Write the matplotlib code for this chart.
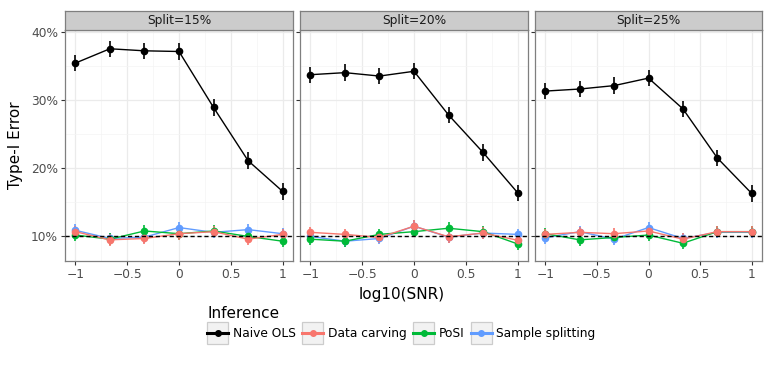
import matplotlib
matplotlib.use("Agg")
import matplotlib.pyplot as plt
import numpy as np
from matplotlib.patches import Rectangle
from matplotlib.lines import Line2D
from matplotlib.legend_handler import HandlerLine2D

plt.rcParams['font.family'] = ['DejaVu Sans']

log_snr = [-1, -2/3, -1/3, 0, 1/3, 2/3, 1]
splits = ["Split=15%", "Split=20%", "Split=25%"]
methods = ["Naive OLS", "Data carving", "PoSI", "Sample splitting"]
colors = {"Naive OLS": "#000000", "Data carving": "#F8766D", "PoSI": "#00BA38", "Sample splitting": "#619CFF"}

naive = [
    [35.4, 37.5, 37.2, 37.1, 28.9, 21.1, 16.6],
    [33.7, 34.0, 33.5, 34.2, 27.8, 22.3, 16.4],
    [31.3, 31.6, 32.1, 33.2, 28.7, 21.5, 16.3],
]
carving = [
    [10.7, 9.5, 9.7, 10.4, 10.7, 9.6, 10.3],
    [10.6, 10.3, 9.85, 11.5, 9.95, 10.5, 9.45],
    [10.3, 10.6, 10.4, 10.8, 9.6, 10.7, 10.7],
]
posi = [
    [10.2, 9.6, 10.8, 10.4, 10.8, 10.0, 9.3],
    [9.6, 9.3, 10.3, 10.7, 11.2, 10.7, 8.9],
    [10.4, 9.5, 9.85, 10.2, 9.0, 10.7, 10.7],
]
splitting = [
    [10.9, 9.7, 9.9, 11.3, 10.6, 11.0, 10.4],
    [10.0, 9.3, 9.7, 11.5, 9.9, 10.5, 10.3],
    [9.8, 10.7, 9.6, 11.3, 9.7, 10.6, 10.6],
]
naive_err = 1.2
other_err = 0.85

series = {"Naive OLS": naive, "Data carving": carving, "PoSI": posi, "Sample splitting": splitting}

W, H = 772, 372
fig = plt.figure(figsize=(W/100, H/100), dpi=100)

panel_x = [(65, 293), (300, 528), (535, 762)]
top, bottom = 30, 261
strip_top = 11

axes = []
for i, (x0, x1) in enumerate(panel_x):
    ax = fig.add_axes([x0/W, 1 - bottom/H, (x1-x0)/W, (bottom-top)/H])
    axes.append(ax)
    ax.set_facecolor("white")
    for m in ["Sample splitting", "PoSI", "Data carving", "Naive OLS"]:
        ys = series[m][i]
        err = naive_err if m == "Naive OLS" else other_err
        ax.errorbar(log_snr, ys, yerr=err, color=colors[m], lw=1.0, marker='o', ms=4.5,
                    elinewidth=1.2, capsize=0, zorder=3 if m == "Naive OLS" else 2)
    ax.axhline(10, color="black", ls=(0, (3, 2)), lw=1.0, zorder=4)
    ax.set_xlim(-1.1, 1.1)
    ax.set_ylim(6.4, 40.25)
    ax.set_xticks([-1, -0.5, 0, 0.5, 1])
    ax.set_xticklabels(["\u22121", "\u22120.5", "0", "0.5", "1"])
    ax.set_xticks([-0.75, -0.25, 0.25, 0.75], minor=True)
    ax.set_yticks([10, 20, 30, 40])
    ax.set_yticks([15, 25, 35], minor=True)
    if i == 0:
        ax.set_yticklabels(["10%", "20%", "30%", "40%"])
    else:
        ax.set_yticklabels([])
    ax.grid(which="major", color="#EBEBEB", lw=0.9, zorder=0)
    ax.grid(which="minor", color="#F4F4F4", lw=0.5, zorder=0)
    ax.set_axisbelow(True)
    for s in ax.spines.values():
        s.set_color("#7F7F7F")
        s.set_linewidth(0.9)
    ax.tick_params(which="major", length=3, color="#333333", labelsize=8.8, labelcolor="#4D4D4D", pad=2)
    ax.tick_params(which="minor", length=0)
    # strip
    sax = fig.add_axes([x0/W, 1 - top/H, (x1-x0)/W, (top-strip_top)/H])
    sax.set_facecolor("#CCCCCC")
    sax.set_xticks([]); sax.set_yticks([])
    for s in sax.spines.values():
        s.set_color("#7F7F7F")
        s.set_linewidth(0.9)
    sax.text(0.5, 0.5, splits[i], ha="center", va="center", fontsize=8.8, color="#1A1A1A",
             transform=sax.transAxes)

fig.text(16/W, 1 - 145/H, "Type-I Error", rotation=90, ha="center", va="center", fontsize=11)
fig.text(402/W, 1 - 294/H, "log10(SNR)", ha="center", va="center", fontsize=11)


class BoxHandler(HandlerLine2D):
    def create_artists(self, legend, orig_handle, xdescent, ydescent, width, height, fontsize, trans):
        pad = 4.8
        rect = Rectangle((-xdescent, -ydescent - pad), width, height + 2 * pad, facecolor="#F2F2F2",
                         edgecolor="#CCCCCC", lw=0.9, transform=trans)
        arts = super().create_artists(legend, orig_handle, xdescent, ydescent, width, height, fontsize, trans)
        return [rect] + list(arts)


handles = [Line2D([], [], color=colors[m], lw=2.2, marker='o', ms=4)
           for m in methods]
leg = fig.legend(handles, methods, loc="upper left", bbox_to_anchor=(205/W, 1 - 304/H), ncol=4,
                 frameon=False, title="Inference", fontsize=8.8, title_fontsize=11,
                 handler_map={Line2D: BoxHandler(numpoints=1)}, handlelength=1.72,
                 handletextpad=0.35, columnspacing=0.55, alignment="left", borderaxespad=0,
                 borderpad=0.2, labelspacing=0.3)
leg._legend_box.sep = 4

fig.savefig("out.png", dpi=100)
